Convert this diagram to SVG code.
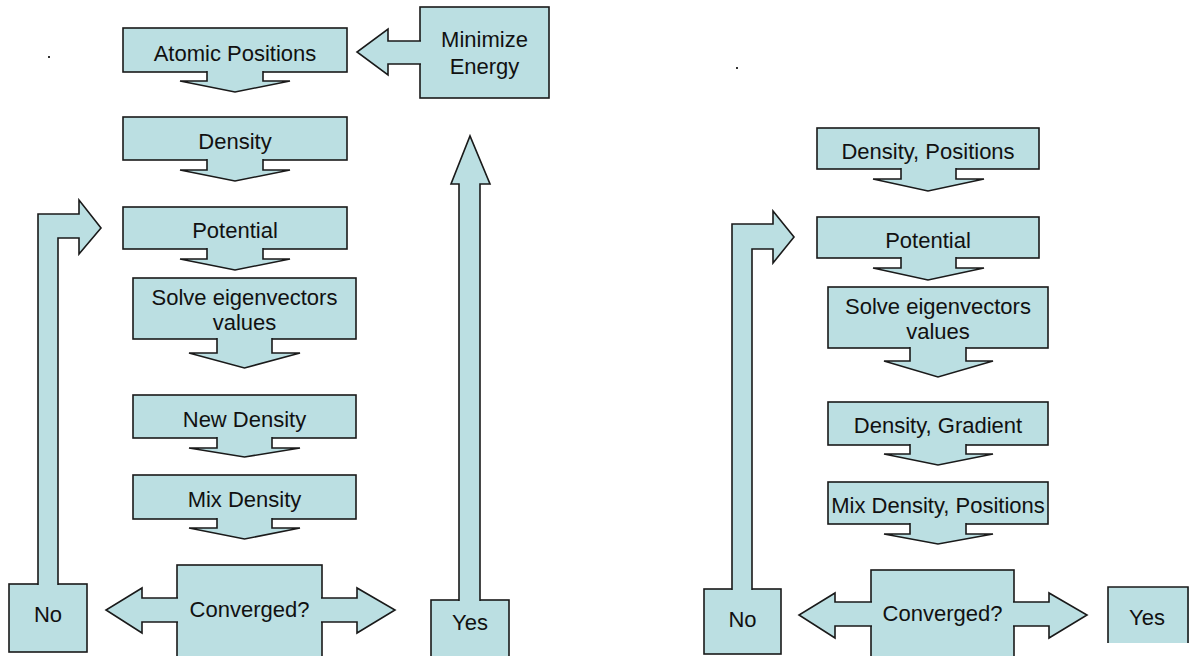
<svg xmlns="http://www.w3.org/2000/svg" width="1189" height="656" viewBox="0 0 1189 656">
<defs>
<style>
.s{fill:#BBDFE2;stroke:#1a1a1a;stroke-width:1.6;stroke-linejoin:miter}
.t{font-family:"Liberation Sans",Arial,sans-serif;font-size:22px;fill:#111;text-anchor:middle}
</style>
</defs>
<rect width="1189" height="656" fill="#fff"/>
<rect x="48" y="56" width="2" height="2" fill="#333"/>
<rect x="736" y="67" width="2" height="2" fill="#333"/>
<g id="left-chart">
<g id="atomic"><rect class="s" x="123" y="28" width="224" height="44"/><text class="t" x="235" y="61">Atomic Positions</text></g>
<g id="minimize"><rect class="s" x="420" y="7" width="129" height="91"/><text class="t" x="484.5" y="47">Minimize</text><text class="t" x="484.5" y="74">Energy</text></g>
<g id="density"><rect class="s" x="123" y="117" width="224" height="43"/><text class="t" x="235" y="149">Density</text></g>
<g id="potential"><rect class="s" x="123" y="207" width="224" height="42"/><text class="t" x="235" y="238">Potential</text></g>
<g id="solve"><rect class="s" x="133" y="278" width="223" height="61"/><text class="t" x="244.5" y="305">Solve eigenvectors</text><text class="t" x="244.5" y="330">values</text></g>
<g id="newdensity"><rect class="s" x="133" y="395" width="223" height="43"/><text class="t" x="244.5" y="427">New Density</text></g>
<g id="mixdensity"><rect class="s" x="133" y="475" width="223" height="44"/><text class="t" x="244.5" y="507">Mix Density</text></g>
<g id="converged"><rect class="s" x="177" y="565" width="145" height="92"/><text class="t" x="249.5" y="617">Converged?</text></g>
<g id="no"><rect class="s" x="9" y="584" width="78" height="68"/><text class="t" x="48" y="622">No</text></g>
<g id="yes"><rect class="s" x="431" y="600" width="78" height="60"/><text class="t" x="470" y="630">Yes</text></g>
</g>
<g id="right-chart">
<g id="r-densitypositions"><rect class="s" x="817" y="128" width="222" height="41"/><text class="t" x="928" y="159">Density, Positions</text></g>
<g id="r-potential"><rect class="s" x="817" y="217" width="222" height="41"/><text class="t" x="928" y="248">Potential</text></g>
<g id="r-solve"><rect class="s" x="828" y="287" width="220" height="61"/><text class="t" x="938" y="314">Solve eigenvectors</text><text class="t" x="938" y="339">values</text></g>
<g id="r-densitygradient"><rect class="s" x="828" y="402" width="220" height="43"/><text class="t" x="938" y="433">Density, Gradient</text></g>
<g id="r-mix"><rect class="s" x="828" y="482" width="220" height="42"/><text class="t" x="938" y="513">Mix Density, Positions</text></g>
<g id="r-converged"><rect class="s" x="871" y="570" width="143" height="90"/><text class="t" x="942.5" y="621">Converged?</text></g>
<g id="r-no"><rect class="s" x="704" y="589" width="77" height="65"/><text class="t" x="742.5" y="627">No</text></g>
<g id="r-yes"><rect x="1108" y="587" width="81" height="56" fill="#BBDFE2"/><path d="M1108,643 V587 H1188 V643" fill="none" stroke="#1a1a1a" stroke-width="1.6"/><text class="t" x="1147" y="625">Yes</text></g>
</g>
<g id="connectors">
<path class="s" d="M207,71 V81 H180 L235,92 L290,81 H263 V71"/>
<path class="s" d="M207,159 V170 H180 L235,181 L290,170 H263 V159"/>
<path class="s" d="M207,248 V259 H180 L235,270 L290,259 H263 V248"/>
<path class="s" d="M217,338 V353 H189 L244.5,368 L300,353 H272 V338"/>
<path class="s" d="M217,437 V448 H189 L244.5,457 L300,448 H272 V437"/>
<path class="s" d="M217,518 V528 H189 L244.5,539 L300,528 H272 V518"/>
<path class="s" d="M421,41 H388 V29 L357,52 L388,75 V64 H421"/>
<path class="s" d="M178,598 H142 V588 L106,610 L142,633 V622 H178"/>
<path class="s" d="M321,598 H357 V588 L395,610 L357,633 V622 H321"/>
<path class="s" d="M38,585 V214 H79 V200 L101,228 L79,254 V238 H58 V585"/>
<path class="s" d="M459,601 V184 H451 L470,136 L490,184 H480 V601"/>
<path class="s" d="M901,168 V179 H873 L928,191 L984,179 H956 V168"/>
<path class="s" d="M901,257 V268 H873 L928,280 L984,268 H956 V257"/>
<path class="s" d="M910,347 V361 H884 L938,377 L993,361 H966 V347"/>
<path class="s" d="M910,444 V454 H884 L938,465 L993,454 H966 V444"/>
<path class="s" d="M910,523 V534 H884 L938,544 L993,534 H966 V523"/>
<path class="s" d="M872,602 H835 V593 L799,615 L835,638 V626 H872"/>
<path class="s" d="M1013,602 H1049 V593 L1087,615 L1049,638 V626 H1013"/>
<path class="s" d="M732,590 V224 H773 V211 L794,237 L773,263 V249 H752 V590"/>
</g>
</svg>
